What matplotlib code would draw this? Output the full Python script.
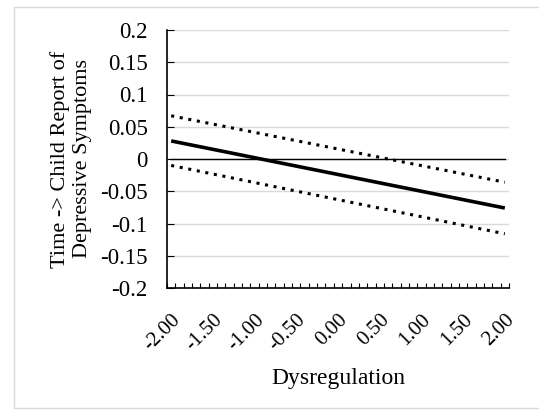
import matplotlib
matplotlib.use("Agg")
import matplotlib.pyplot as plt
import numpy as np
from matplotlib.patches import Rectangle

# Data
x_ends = [-2.0, 2.0]
estimate = [0.028, -0.076]
upper_ci = [0.067, -0.036]
lower_ci = [-0.010, -0.116]
zero_line = [0.0, 0.0]
x_tick_values = [-2.0, -1.5, -1.0, -0.5, 0.0, 0.5, 1.0, 1.5, 2.0]
x_tick_labels = ["-2.00", "-1.50", "-1.00", "-0.50", "0.00", "0.50", "1.00", "1.50", "2.00"]
y_tick_values = [-0.2, -0.15, -0.1, -0.05, 0, 0.05, 0.1, 0.15, 0.2]
y_tick_labels = ["-0.2", "-0.15", "-0.1", "-0.05", "0", "0.05", "0.1", "0.15", "0.2"]

plt.rcParams['font.family'] = ['Liberation Serif', 'DejaVu Serif']

fig = plt.figure(figsize=(5.39, 4.12), dpi=100)
fig.patches.append(Rectangle((14/539, 1-408/412), 1.0, (408-7)/412, transform=fig.transFigure,
                             fill=False, edgecolor='#d9d9d9', linewidth=1.0))
ax = fig.add_axes([167/539, 1-288/412, 342/539, 258/412])

ax.plot(x_ends, zero_line, color='black', lw=1.0, zorder=3)
ax.plot(x_ends, upper_ci, color='black', lw=2.2, linestyle=(0, (1, 1.85)), zorder=4)
ax.plot(x_ends, lower_ci, color='black', lw=2.2, linestyle=(0, (1, 1.85)), zorder=4)
ax.plot(x_ends, estimate, color='black', lw=2.6, solid_capstyle='butt', zorder=5)

ax.set_xlim(-2.05, 2.05)
ax.set_ylim(-0.2, 0.2)
ax.set_yticks(y_tick_values)
ax.set_yticklabels(y_tick_labels, fontsize=16.5)
ax.set_xticks(x_tick_values)
ax.set_xticklabels(x_tick_labels, fontsize=15, rotation=45, ha='right', va='top',
                   rotation_mode='anchor')
ax.set_xticks(np.arange(-2.05, 2.06, 0.1), minor=True)
ax.tick_params(axis='x', which='major', length=0, pad=16)
ax.tick_params(axis='x', which='minor', direction='in', length=3.8, width=0.8)
ax.tick_params(axis='y', which='major', direction='in', length=5, width=0.8, pad=14)

ax.grid(axis='y', color='#d9d9d9', lw=1.0, zorder=0)
ax.set_axisbelow(True)
for s in ['top', 'right']:
    ax.spines[s].set_visible(False)
for s in ['left', 'bottom']:
    ax.spines[s].set_linewidth(1.2)

ax.set_xlabel("Dysregulation", fontsize=17, labelpad=9.5)
ax.set_ylabel("Time -> Child Report of\nDepressive Symptoms", fontsize=16, labelpad=5.5,
              linespacing=1.25)

fig.savefig("out.png", dpi=100)
